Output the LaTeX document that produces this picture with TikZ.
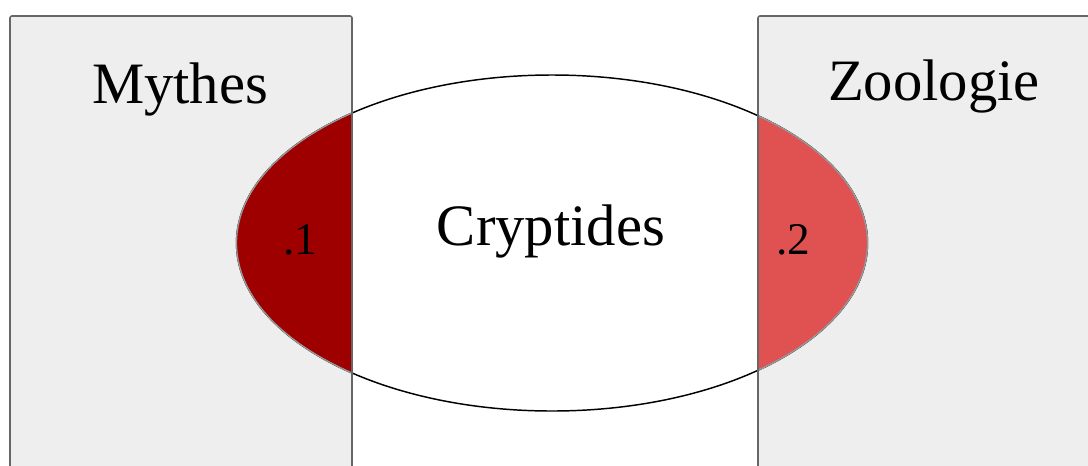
\documentclass[tikz,border=0pt]{standalone}
\usepackage{fontspec}
\setmainfont{Liberation Serif}
\definecolor{boxfill}{HTML}{EEEEEE}
\definecolor{boxline}{HTML}{666666}
\definecolor{segline}{HTML}{999999}
\definecolor{darkseg}{HTML}{9E0000}
\definecolor{lightseg}{HTML}{E05252}
\begin{document}
\begin{tikzpicture}[x=0.75pt,y=-0.75pt,
  boxbg/.style={fill=boxfill},
  boxborder/.style={draw=boxline,line width=1.2pt,rounded corners=1.5pt},
  outline/.style={draw=black,line width=1.1pt,fill=white},
  segment/.style={draw=segline,line width=1pt},
  title/.style={font=\fontsize{44}{48}\selectfont,anchor=base,inner sep=0pt},
  label/.style={font=\fontsize{34}{38}\selectfont,anchor=base,inner sep=0pt}]
\useasboundingbox (0,0) rectangle (1088,465);
% box backgrounds
\fill[boxbg] (10,16) rectangle (352,490);
\fill[boxbg] (758,16) rectangle (1110,490);
% ellipse
\path[outline] (552,243) ellipse [x radius=315.5, y radius=168];
% coloured segments
\begin{scope}
  \clip (10,16) rectangle (352,490);
  \path[segment,fill=darkseg] (552,243) ellipse [x radius=315.5, y radius=168];
\end{scope}
\begin{scope}
  \clip (758,16) rectangle (1110,490);
  \path[segment,fill=lightseg] (552,243) ellipse [x radius=315.5, y radius=168];
\end{scope}
% box borders
\draw[boxborder] (10,490) -- (10,16) -- (352,16) -- (352,490);
\draw[boxborder] (1110,16) -- (758,16) -- (758,490);
% texts
\node[title] (myth) at (180,103) {Mythes};
\node[title] (zoo) at (934,100) {Zoologie};
\node[title] (crypt) at (551,245) {Cryptides};
\node[label] (one) at (300,254) {.1};
\node[label] (two) at (793,254) {.2};
\end{tikzpicture}
\end{document}
